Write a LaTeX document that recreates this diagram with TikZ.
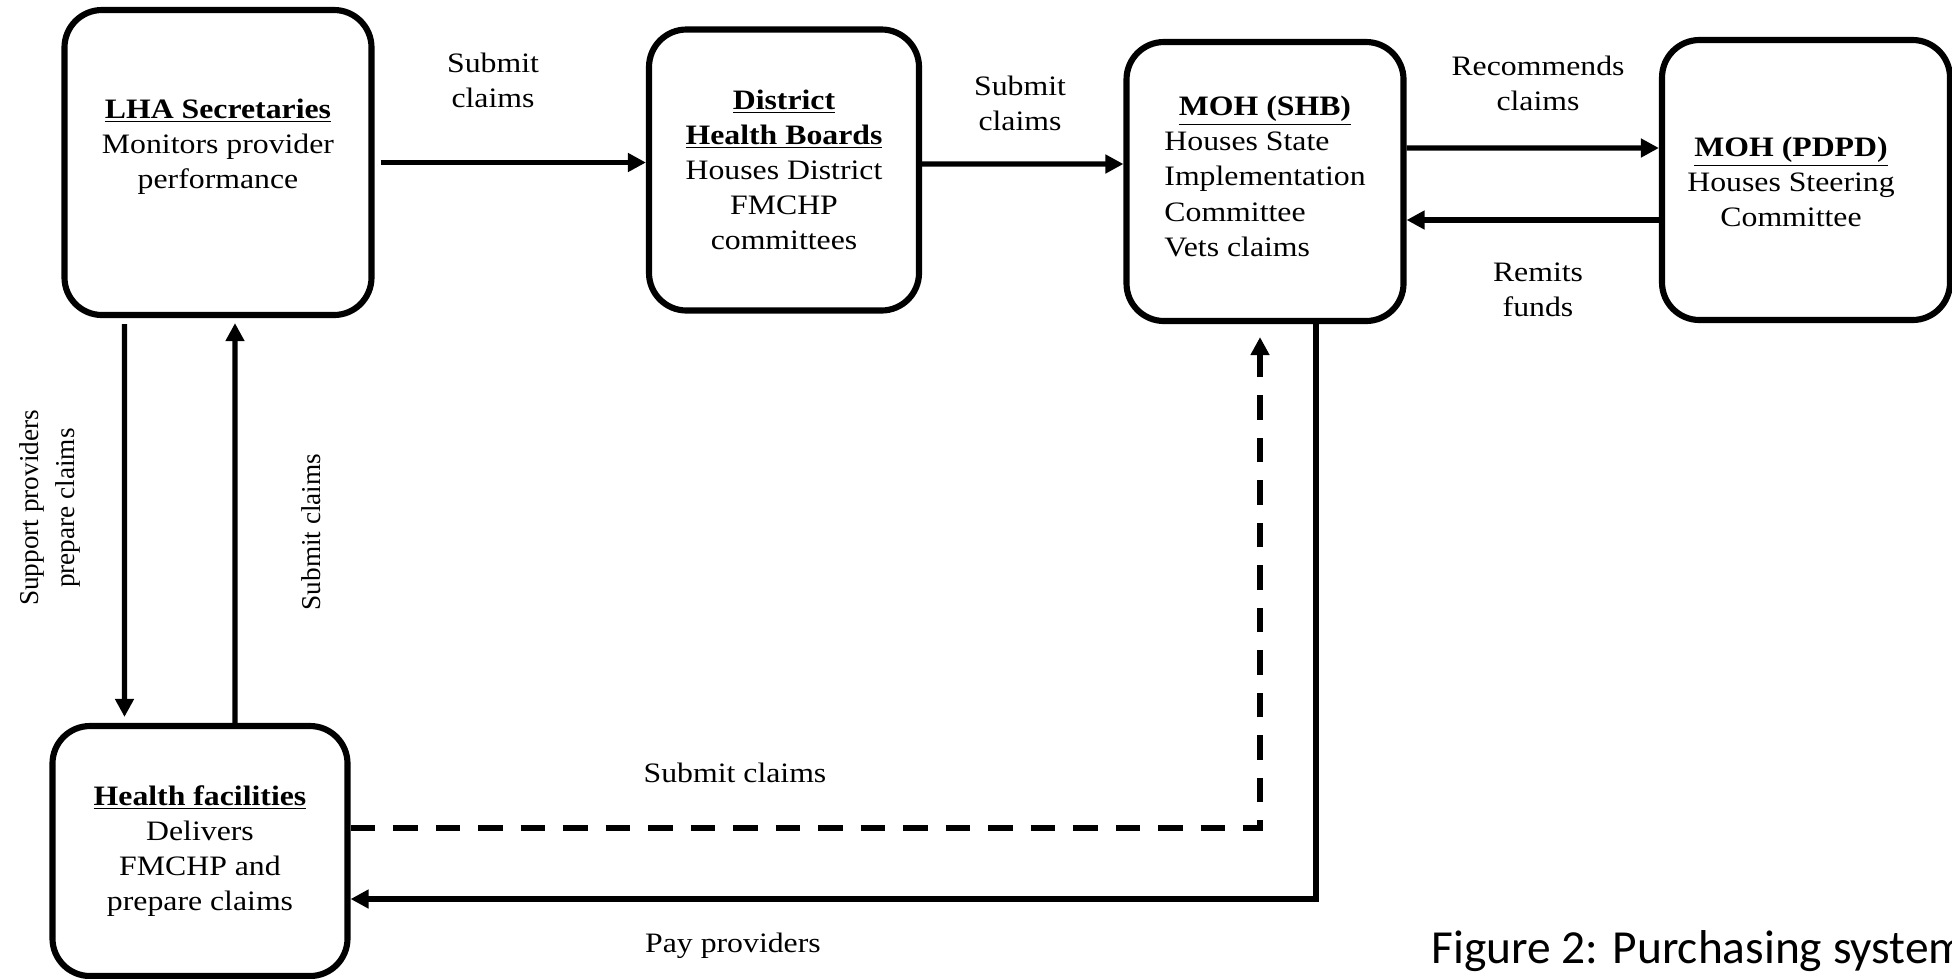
\documentclass[tikz,border=0pt]{standalone}
\usepackage{fontspec}
\setmainfont{Liberation Serif}[FakeStretch=1.13]
\newfontfamily\rotfont{Liberation Serif}
\newfontfamily\capfont{Carlito}
\usetikzlibrary{arrows.meta}

\begin{document}
\begin{tikzpicture}
      \tikzstyle{every node}=[font=\fontsize{16}{20}\selectfont]
      \tikzstyle{box}=[draw,line width=3.5pt,rounded corners=0.75cm,align=center]
      \tikzstyle{arr}=[line width=3.1pt,-{Triangle[length=0.36cm,width=0.36cm]}]
      \tikzstyle{dashedarr}=[arr,dash pattern=on 0.49cm off 0.36cm]
      \tikzstyle{lbl}=[align=center,inner sep=1pt]
      \tikzstyle{rotlbl}=[lbl,rotate=90,font=\rotfont\fontsize{15.5}{20}\selectfont]
      \useasboundingbox (0,0) rectangle (39.04,-19.56);
      % boxes
      \node[box,minimum width=6.14cm,minimum height=6.10cm] (lha) at (4.36,-3.25) {};
      \node[lbl] (lhatext) at (4.36,-2.93) {\underline{\textbf{LHA Secretaries}}\\Monitors provider\\performance};
      \node[box,minimum width=5.40cm,minimum height=5.62cm] (dhb) at (15.68,-3.40)
        {\underline{\textbf{District}}\\\underline{\textbf{Health Boards}}\\Houses District\\FMCHP\\committees};
      \node[box,minimum width=5.54cm,minimum height=5.58cm] (shb) at (25.30,-3.63)
        {\underline{\textbf{MOH (SHB)}}\\\begin{tabular}[t]{@{}l@{}}Houses State\\Implementation\\Committee\\Vets claims\end{tabular}};
      \node[box,minimum width=5.76cm,minimum height=5.60cm] (pdpd) at (36.12,-3.60) {};
      \node[lbl] (pdpdtext) at (35.82,-3.64) {\underline{\textbf{MOH (PDPD)}}\\Houses Steering\\Committee};
      \node[box,minimum width=5.90cm,minimum height=5.00cm] (hf) at (4.00,-17.02)
        {\underline{\textbf{Health facilities}}\\Delivers\\FMCHP and\\prepare claims};
      % connectors
      \draw[arr,shorten <=0.12cm] (lha.east) -- (lha.east -| dhb.west);
      \draw[arr] ([yshift=0.12cm]dhb.east) -- ([yshift=0.35cm]shb.west);
      \draw[arr] ([yshift=0.67cm]shb.east) -- ([yshift=0.64cm]pdpd.west);
      \draw[arr] ([yshift=-0.80cm]pdpd.west) -- ([yshift=-0.77cm]shb.east);
      \draw[arr,shorten <=0.12cm,shorten >=0.12cm] ([xshift=-1.87cm]lha.south) -- ([xshift=-1.51cm]hf.north);
      \draw[arr,shorten >=0.1cm] ([xshift=0.70cm]hf.north) -- ([xshift=0.34cm]lha.south);
      \draw[dashedarr,shorten >=0.26cm] ([yshift=0.46cm]hf.east) -| ([xshift=-0.10cm]shb.south);
      \draw[arr] ([xshift=1.02cm]shb.south) |- ([yshift=-0.96cm]hf.east);
      % labels
      \node[lbl] (l1) at (9.86,-1.60) {Submit\\claims};
      \node[lbl] (l2) at (20.40,-2.06) {Submit\\claims};
      \node[lbl] (l3) at (30.76,-1.66) {Recommends\\claims};
      \node[lbl] (l4) at (30.76,-5.80) {Remits\\funds};
      \node[rotlbl] (l5) at (1.00,-10.16) {Support providers\\prepare claims};
      \node[rotlbl] (l6) at (6.22,-10.64) {Submit claims};
      \node[lbl] (l7) at (14.70,-15.46) {Submit claims};
      \node[lbl] (l8) at (14.66,-18.92) {Pay providers};
      \node[anchor=base west,inner sep=0pt,font=\capfont\fontsize{27}{32}\selectfont] (caption) at (28.62,-19.26) {Figure 2: Purchasing system};
\end{tikzpicture}
\end{document}
